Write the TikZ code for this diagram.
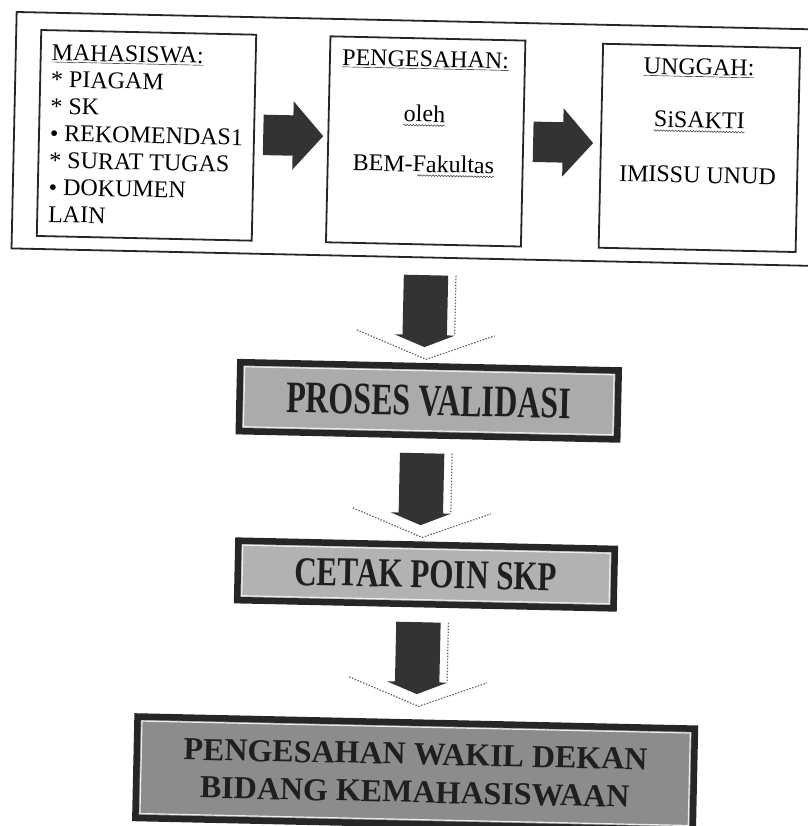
\documentclass[tikz,border=0pt]{standalone}
\usepackage{fontspec}
\setmainfont{Liberation Serif}
\usetikzlibrary{shapes.arrows,decorations.pathmorphing}

\tikzset{
	whitebox/.style={draw=black!85, line width=1.8pt, fill=white, inner sep=0pt, outer sep=0pt},
	graybox/.style={draw=black!85, line width=6.5pt, inner sep=0pt, outer sep=0pt, text=black!88},
	innerline/.style={draw=white!85!gray, line width=1.2pt},
	boxtext/.style={font=\fontsize{24}{27}\selectfont, inner sep=0pt, anchor=base},
	rightarrow/.style={single arrow, fill=black!80, inner xsep=0pt, inner ysep=20pt, single arrow head extend=14pt, single arrow tip angle=97, minimum height=60pt, minimum width=0pt, anchor=tail},
	downarrow/.style={single arrow, shape border rotate=270, fill=black!80, inner sep=22pt, single arrow head extend=8pt, single arrow tip angle=136, minimum height=72pt, minimum width=0pt, anchor=tail},
	shadowdash/.style={black!60, line width=1.2pt, dash pattern=on 1.5pt off 1.5pt},
	squiggle/.style={black!70, line width=.6pt, decorate, decoration={snake, amplitude=.7pt, segment length=3pt}},
}

\begin{document}
\begin{tikzpicture}[x=1pt,y=-1pt]
	\useasboundingbox (0,0) rectangle (807,826);
	\begin{scope}[rotate around={-1.25:(403.5,413)}, transform shape]
	% top row
	\draw[black!85, line width=1.8pt] (8,20.5) rectangle (815,257);
	\node[whitebox, minimum width=215, minimum height=206, align=left, font=\fontsize{24}{27}\selectfont] (mhs) at (140.5,141) {\underline{MAHASISWA:}\\* PIAGAM\\* SK\\• REKOMENDAS1\\* SURAT TUGAS\\• DOKUMEN\\LAIN};
	\node[whitebox, minimum width=195, minimum height=206] (sah) at (419.75,141) {};
	\node[whitebox, minimum width=197, minimum height=204] (ung) at (693.5,141.5) {};
	\node[rightarrow] (r1) at (257,138) {};
	\node[rightarrow] (r2) at (527,139) {};
	\node[boxtext] (sahhead) at (418,66.5) {\underline{PENGESAHAN:}};
	\node[boxtext] (oleh) at (418,121.5) {oleh};
	\node[boxtext] (bem) at (418,171.6) {BEM-Fakultas};
	\node[boxtext] (unghead) at (691.5,68.5) {\underline{UNGGAH:}};
	\node[boxtext] (sisakti) at (693,121.5) {SiSAKTI};
	\node[boxtext] (imissu) at (692.3,176.5) {IMISSU UNUD};
	\draw[squiggle] ([yshift=-3.5pt]oleh.base west) -- ([yshift=-3.5pt]oleh.base east);
	\draw[squiggle] ([xshift=-77pt,yshift=-3.5pt]bem.base east) -- ([yshift=-3.5pt]bem.base east);
	\draw[squiggle] ([yshift=-3.5pt]sisakti.base west) -- ([yshift=-3.5pt]sisakti.base east);
	% validation chain
	\node[downarrow] (d1) at (423,274.5) {};
	\node[graybox, fill=black!33, minimum width=378.5, minimum height=69, font=\bfseries\fontsize{45}{45}\selectfont] (pv) at (428.5,400.25) {\scalebox{.71}[1]{PROSES VALIDASI}};
	\node[downarrow] (d2) at (423,452.6) {};
	\node[graybox, fill=black!30, minimum width=376.5, minimum height=59.5, font=\bfseries\fontsize{41}{41}\selectfont] (cp) at (429.5,574) {\scalebox{.76}[1]{CETAK POIN SKP}};
	\node[downarrow] (d3) at (423,621.6) {};
	\node[graybox, fill=black!45, minimum width=557.5, minimum height=101.5, align=center, font=\bfseries\fontsize{32}{38}\selectfont] (wd) at (423,773) {PENGESAHAN WAKIL DEKAN\\BIDANG KEMAHASISWAAN};
	\draw[innerline] ([shift={(4.5,4.5)}]pv.north west) rectangle ([shift={(-4.5,-4.5)}]pv.south east);
	\draw[innerline] ([shift={(4.5,4.5)}]cp.north west) rectangle ([shift={(-4.5,-4.5)}]cp.south east);
	\draw[innerline] ([shift={(4.5,4.5)}]wd.north west) rectangle ([shift={(-4.5,-4.5)}]wd.south east);
	% dashed shade of the down arrows
	\draw[shadowdash] ([xshift=30pt]d1.tail) -- ([shift={(30,-14)}]d1.tip);
	\draw[shadowdash] ([shift={(-68,-16)}]d1.tip) -- ([shift={(2,12)}]d1.tip) -- ([shift={(70,-13)}]d1.tip);
	\draw[shadowdash] ([xshift=30pt]d2.tail) -- ([shift={(30,-14)}]d2.tip);
	\draw[shadowdash] ([shift={(-68,-16)}]d2.tip) -- ([shift={(2,12)}]d2.tip) -- ([shift={(70,-13)}]d2.tip);
	\draw[shadowdash] ([xshift=30pt]d3.tail) -- ([shift={(30,-14)}]d3.tip);
	\draw[shadowdash] ([shift={(-68,-16)}]d3.tip) -- ([shift={(2,12)}]d3.tip) -- ([shift={(70,-13)}]d3.tip);
	\end{scope}
\end{tikzpicture}
\end{document}
